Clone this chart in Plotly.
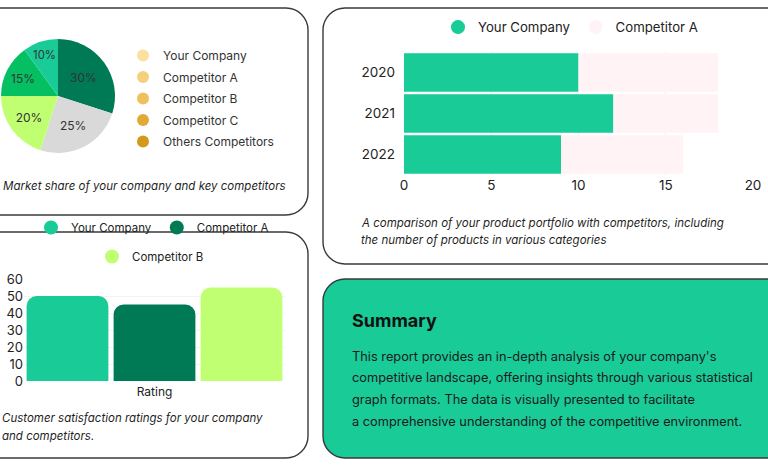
import plotly.graph_objects as go

W, H = 768, 465

# ---------------- data ----------------
pie_labels = ["Your Company", "Competitor A", "Competitor B", "Competitor C", "Others Competitors"]
pie_values = [30, 25, 20, 15, 10]
pie_colors = ["#007A55", "#D9D9D9", "#C1FF72", "#05C062", "#19CB97"]
pie_legend_colors = ["#FCE19E", "#F5CF7D", "#EEC05E", "#E2A936", "#D4991A"]

years = ["2020", "2021", "2022"]
portfolio_you = [10, 12, 9]
portfolio_a = [8, 6, 7]

rating_cat = ["Rating"]
rating_names = ["Your Company", "Competitor A", "Competitor B"]
rating_values = [50, 45, 55]
rating_colors = ["#19CB97", "#007A55", "#C1FF72"]

summary_title = "Summary"
summary_lines = [
    "This report provides an in-depth analysis of your company's",
    "competitive landscape, offering insights through various statistical",
    "graph formats. The data is visually presented to facilitate",
    "a comprehensive understanding of the competitive environment.",
]

FONT = "Inter"
TXT = "#1f1f1f"


def px(x):
    return x / W


def py(y):
    return 1 - y / H


def rrect(x0, y0, x1, y1, r):
    k = 0.552 * r
    pts = []
    pts.append(f"M {px(x0 + r)},{py(y0)}")
    pts.append(f"L {px(x1 - r)},{py(y0)}")
    pts.append(f"C {px(x1 - r + k)},{py(y0)} {px(x1)},{py(y0 + r - k)} {px(x1)},{py(y0 + r)}")
    pts.append(f"L {px(x1)},{py(y1 - r)}")
    pts.append(f"C {px(x1)},{py(y1 - r + k)} {px(x1 - r + k)},{py(y1)} {px(x1 - r)},{py(y1)}")
    pts.append(f"L {px(x0 + r)},{py(y1)}")
    pts.append(f"C {px(x0 + r - k)},{py(y1)} {px(x0)},{py(y1 - r + k)} {px(x0)},{py(y1 - r)}")
    pts.append(f"L {px(x0)},{py(y0 + r)}")
    pts.append(f"C {px(x0)},{py(y0 + r - k)} {px(x0 + r - k)},{py(y0)} {px(x0 + r)},{py(y0)}")
    pts.append("Z")
    return " ".join(pts)


fig = go.Figure()

# ---------------- pie ----------------
fig.add_trace(go.Pie(
    labels=pie_labels, values=pie_values, sort=False, direction="clockwise", rotation=0,
    marker=dict(colors=pie_colors, line=dict(width=0)),
    textinfo="percent", textposition="inside", insidetextorientation="horizontal",
    textfont=dict(family=FONT, size=12, color="#333333"),
    domain=dict(x=[px(1), px(115)], y=[py(153), py(39)]),
    showlegend=False, hoverinfo="label+percent", automargin=False,
))
for name, col in zip(pie_labels, pie_legend_colors):
    fig.add_trace(go.Scatter(
        x=[None], y=[None], mode="markers", name=name, legendgroup="pie_" + name,
        marker=dict(color=col, size=12, symbol="circle"),
        xaxis="x3", yaxis="y3", legend="legend",
    ))

# ---------------- horizontal stacked bar ----------------
fig.add_trace(go.Bar(
    y=years, x=portfolio_you, orientation="h", name="Your Company", offsetgroup="p",
    marker=dict(color="#19CB97", line=dict(width=0)), showlegend=False,
    xaxis="x", yaxis="y",
))
fig.add_trace(go.Bar(
    y=years, x=portfolio_a, base=portfolio_you, orientation="h", name="Competitor A",
    offsetgroup="p",
    marker=dict(color="#FFF3F6", line=dict(width=0)), showlegend=False,
    xaxis="x", yaxis="y",
))
for name, col in [("Your Company", "#19CB97"), ("Competitor A", "#FFF3F6")]:
    fig.add_trace(go.Scatter(
        x=[None], y=[None], mode="markers", name=name,
        marker=dict(color=col, size=14, symbol="circle"),
        xaxis="x3", yaxis="y3", legend="legend2",
    ))

# ---------------- vertical grouped bar ----------------
for name, val, col in zip(rating_names, rating_values, rating_colors):
    fig.add_trace(go.Bar(
        x=rating_cat, y=[val], name=name,
        marker=dict(color=col, line=dict(width=0), cornerradius=10),
        showlegend=False, xaxis="x2", yaxis="y2",
    ))
for i, (name, col) in enumerate(zip(rating_names, rating_colors)):
    fig.add_trace(go.Scatter(
        x=[None], y=[None], mode="markers", name=name,
        marker=dict(color=col, size=14, symbol="circle"),
        xaxis="x3", yaxis="y3", legend="legend3" if i < 2 else "legend4",
    ))

# ---------------- shapes (panels) ----------------
border = "#3a3a3a"
shapes = [
    dict(type="path", xref="paper", yref="paper", path=rrect(-40, 8, 308, 215, 22),
         line=dict(color=border, width=1.4), fillcolor="white", layer="below"),
    dict(type="path", xref="paper", yref="paper", path=rrect(323, 8, 820, 264, 22),
         line=dict(color=border, width=1.4), fillcolor="white", layer="below"),
    dict(type="path", xref="paper", yref="paper", path=rrect(-40, 232, 308, 458, 22),
         line=dict(color=border, width=1.4), fillcolor="white", layer="below"),
    dict(type="path", xref="paper", yref="paper", path=rrect(323, 279, 820, 458, 22),
         line=dict(color=border, width=1.4), fillcolor="#19CB97", layer="below"),
]

# ---------------- annotations ----------------
ann = []


def text(x, y, s, size=11.5, italic=False, bold=False, color=TXT, anchor="left"):
    t = s
    if bold:
        t = f"<b>{t}</b>"
    if italic:
        t = f"<i>{t}</i>"
    ann.append(dict(xref="paper", yref="paper", x=px(x), y=py(y), text=t, showarrow=False,
                    xanchor=anchor, yanchor="middle",
                    font=dict(family=FONT, size=size, color=color)))


text(1, 186, "Market share of your company and key competitors", italic=True)
text(359, 223, "A comparison of your product portfolio with competitors, including", italic=True)
text(359, 240, "the number of products in various categories", italic=True)
text(0, 418, "Customer satisfaction ratings for your company", italic=True)
text(0, 436, "and competitors.", italic=True)
text(350, 320, summary_title, size=18, bold=True, color="#111111")
for i, line in enumerate(summary_lines):
    text(350, 356 + i * 21.7, line, size=12.8, color="#1a1a1a")

legend_font = dict(family=FONT, size=12, color="#333333")
bar_legend_font = dict(family=FONT, size=13.2, color="#222222")
small_legend_font = dict(family=FONT, size=11.5, color="#222222")

fig.update_layout(
    template="none",
    width=W, height=H,
    margin=dict(l=0, r=0, t=0, b=0, autoexpand=False),
    paper_bgcolor="white", plot_bgcolor="rgba(0,0,0,0)",
    barmode="group",
    bargap=0.0,
    bargroupgap=0.06,
    font=dict(family=FONT, color=TXT),
    shapes=shapes, annotations=ann,
    xaxis=dict(domain=[px(404), px(753)], range=[0, 20], dtick=5, showgrid=True,
               gridcolor="#F0F0F0", zeroline=False, showline=False, ticks="", automargin=False,
               tickfont=dict(family=FONT, size=13.5, color="#222222"), anchor="y"),
    yaxis=dict(domain=[py(175), py(52)], autorange="reversed", showgrid=False,
               zeroline=False, showline=False, ticks="", ticklabelstandoff=8, automargin=False,
               tickfont=dict(family=FONT, size=13.5, color="#222222"), anchor="x"),
    xaxis2=dict(domain=[px(24), px(285)], showgrid=False, zeroline=False, showline=False,
                ticks="", automargin=False, ticklabelstandoff=2,
                tickfont=dict(family=FONT, size=12, color="#222222"), anchor="y2"),
    yaxis2=dict(domain=[py(381), py(279)], range=[0, 60], dtick=10, showgrid=True,
                gridcolor="#F3F3F3", zeroline=False, showline=False, ticks="", automargin=False,
                tickfont=dict(family=FONT, size=13, color="#222222"), anchor="x2"),
    xaxis3=dict(domain=[0.99, 1], visible=False, anchor="y3"),
    yaxis3=dict(domain=[0.99, 1], visible=False, anchor="x3"),
    legend=dict(x=px(123), y=py(41), xanchor="left", yanchor="top", font=legend_font,
                bgcolor="rgba(0,0,0,0)", orientation="v", traceorder="grouped",
                tracegroupgap=2.5),
    legend2=dict(x=px(438), y=py(12), xanchor="left", yanchor="top", font=bar_legend_font,
                 bgcolor="rgba(0,0,0,0)", orientation="h", traceorder="normal"),
    legend3=dict(x=px(31), y=py(213), xanchor="left", yanchor="top", font=small_legend_font,
                 bgcolor="rgba(0,0,0,0)", orientation="h", traceorder="normal"),
    legend4=dict(x=px(92), y=py(242), xanchor="left", yanchor="top", font=small_legend_font,
                 bgcolor="rgba(0,0,0,0)", orientation="h", traceorder="normal"),
)

fig.write_html("out.html", config={"displayModeBar": False},
               post_script="document.body.style.margin='0';")
